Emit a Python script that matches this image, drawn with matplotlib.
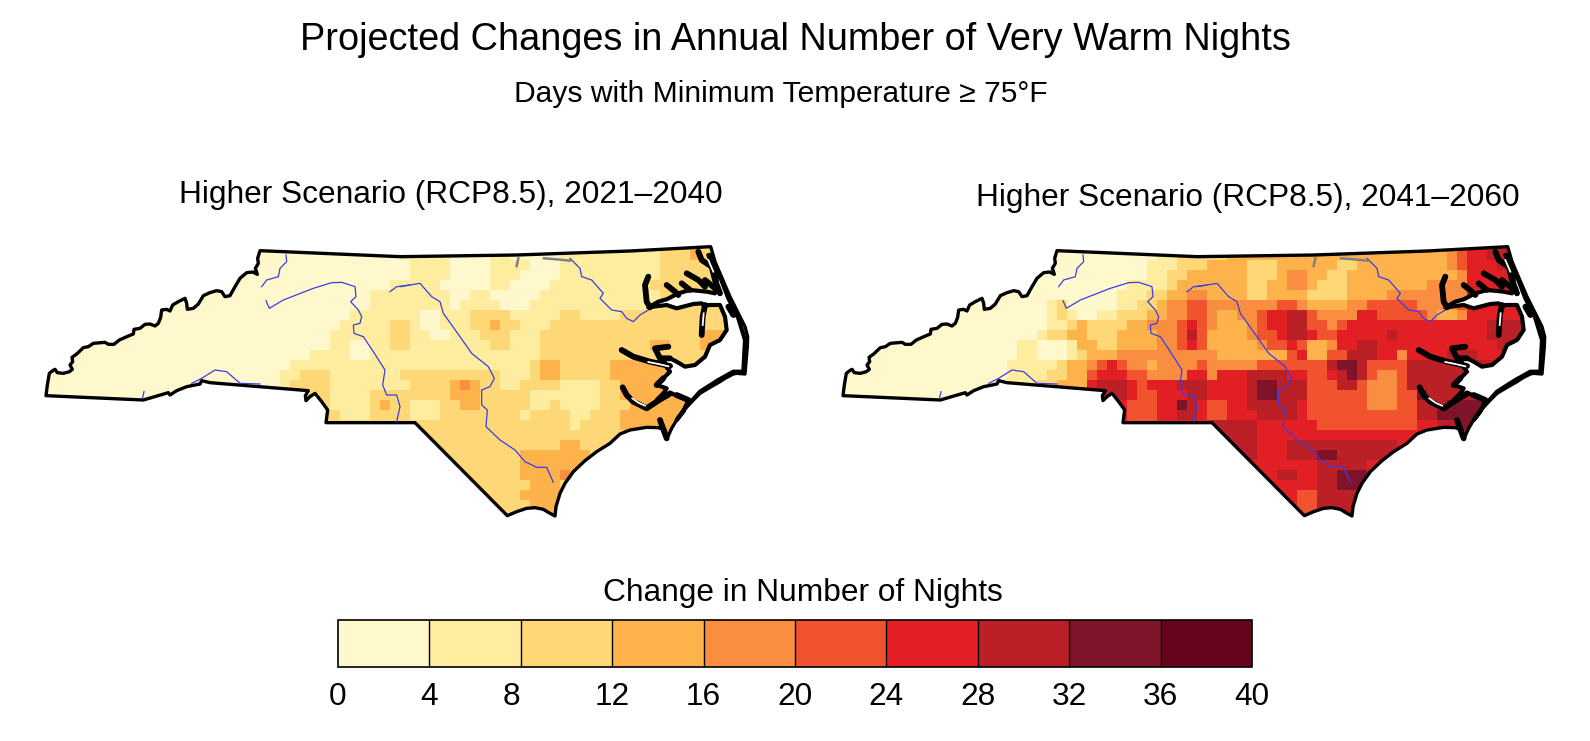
import matplotlib
matplotlib.use('Agg')
import matplotlib.pyplot as plt
import numpy as np
from matplotlib.colors import BoundaryNorm, ListedColormap
from matplotlib.cm import ScalarMappable
from matplotlib.patches import Polygon
from matplotlib.transforms import ScaledTranslation

plt.rcParams['font.family'] = ['Liberation Sans', 'DejaVu Sans']

title = 'Projected Changes in Annual Number of Very Warm Nights'
subtitle = 'Days with Minimum Temperature ≥ 75°F'
panel_titles = ['Higher Scenario (RCP8.5), 2021–2040', 'Higher Scenario (RCP8.5), 2041–2060']
legend_title = 'Change in Number of Nights'
bin_edges = [0, 4, 8, 12, 16, 20, 24, 28, 32, 36, 40]
bin_colors = ['#fff8cc', '#feec9f', '#fed876', '#feb24c', '#f98e40',
              '#f2532f', '#e31f26', '#bb2026', '#7f132a', '#67051f']

# bin index per 10 px cell, grouped in tens so the columns can be counted
early_bins = [
    '0000000000 0000000000 0000000000 0000000000 0000000000 0011111111 1122232222 22',
    '0000000000 0000000000 0000000000 0000001111 1000011000 0011111111 1122232222 22',
    '0000000000 0000000000 0000000000 0000000111 1000011110 0011111111 1122222222 22',
    '0000000000 0000000000 0000000000 0000000111 1000011100 0011111111 1122222222 22',
    '0000000000 0000000000 0000000000 0000011111 0000011000 0111111111 1222222222 22',
    '0000000000 0000000000 0000000000 0001111111 1001100000 1111111111 1122222222 22',
    '0000000000 0000000000 0000000000 0001111111 1011110001 1111111111 1122222222 22',
    '0000000000 0000000000 0000000000 0111111100 1112222111 1122111122 2222222222 22',
    '0000000000 0000000000 0000000000 1111122100 1112232211 1222222222 2222222222 22',
    '0000000000 0000000000 0000000001 1111122110 0111222111 2222222222 2222223332 22',
    '0000000000 0000000000 0000000001 1001122111 1111122111 2222222222 2332223322 22',
    '0000000000 0000000000 0000000111 1001111111 1111111111 2222222222 2222222222 22',
    '0000000000 0000000000 0000011111 1111111111 1111111112 3322222333 3332222222 22',
    '0000000000 0000000000 0000112221 1111112222 2222221112 3322222333 3333222222 22',
    '0000000000 0000000000 0000122221 1111111222 2343221122 2211112233 3333333222 22',
    '0000000000 0000000000 0000022221 1112222222 2333222221 1111112233 3333333333 33',
    '0000000000 0000000000 0000022221 1112322111 2233222221 1211112223 3333333333 33',
    '0000000000 0000000000 0000022222 1112222111 2222222212 2221122233 3333333333 33',
    '0000000000 0000000000 2222222222 2222222222 2222222222 2221222233 3333333333 33',
    '0000000000 0000000000 2222222222 2222222222 2222222222 2222222222 3333333333 33',
    '0000000000 0000000000 2222222222 2222222222 2222222222 2233222222 3333333333 33',
    '0000000000 0000000000 2222222222 2222222222 2222222233 3333322222 3333333333 33',
    '0000000000 0000000000 2222222222 2222222222 2222222233 3333322222 3333333333 33',
    '0000000000 0000000000 2222222222 2222222222 2222222233 3343222222 3333333333 33',
    '0000000000 0000000000 2222222222 2222222222 2222222223 3322222222 3333333333 33',
    '0000000000 0000000000 2222222222 2222222222 2222222233 3322222222 3333333333 33',
    '0000000000 0000000000 2222222222 2222222222 2222222223 3322222222 3333333333 33',
    '0000000000 0000000000 2222222222 2222222222 2222222223 3322222222 3333333333 33',
]
late_bins = [
    '0000000000 0000000000 0000000000 0011222223 3333333333 3333333333 3456677666 66',
    '0000000000 0000000000 0000000000 0011222223 3333333333 3333333333 3456677666 66',
    '0000000000 0000000000 0000000000 0111222333 3222333333 2233333333 3456667766 66',
    '0000000000 0000000000 0000000000 0112233333 3222344332 2333333333 3346666666 66',
    '0000000000 0000000000 0000000001 1112333333 3223344322 2333333334 4446666666 66',
    '0000000000 0000000000 0000000011 1223344333 3223333222 2333344444 4446666666 66',
    '0000000000 0000000000 0120000011 2234455444 4444554333 3445555544 4456666666 66',
    '0000000000 0000000000 0121001122 2334455433 4456677544 4466555554 3346666666 66',
    '0000000000 0000000000 0112322223 3444565433 3456677554 5666666666 6666677777 77',
    '0000000000 0000000000 1223322233 3344575333 3455677655 6666676666 6666677777 77',
    '0000000000 0000000011 0001332233 3344565333 3345565334 6677666666 6666667777 77',
    '0000000000 0000000011 0001233344 4444444433 3333356335 5777664666 6777666666 66',
    '0000000000 0000000111 1123345654 4344445444 4455555557 8875555777 7777776666 66',
    '0000000000 0000000111 1223356665 5444466466 6777766556 7875445777 7777777777 77',
    '0000000000 0000000111 2233367776 5666777666 6788777555 7754445777 7777777777 77',
    '0000000000 0000000111 2233367776 5566677666 6788777555 5554445587 7777777777 77',
    '0000000000 0000000111 2233367765 5566876556 6777776555 5554445577 7888887777 77',
    '0000000000 0000000111 2233367765 5566776556 6677776555 5555555577 8888887777 77',
    '0000000000 0000000111 2233367765 5566666777 7766666655 5555555566 7788887777 77',
    '0000000000 0000000111 2233367765 6666666777 7766666666 6666666667 7777777777 77',
    '0000000000 0000000111 2233367765 6666666777 7766677777 7777776666 7777777777 77',
    '0000000000 0000000111 2233367765 6666666777 7766677788 7777776666 7777777777 77',
    '0000000000 0000000111 2233367765 6666666666 6666666677 7776666666 7777777777 77',
    '0000000000 0000000111 2233367765 6666666666 6666776677 8887666666 7777777777 77',
    '0000000000 0000000111 2233367765 6666666666 6666666677 8886666666 7777777777 77',
    '0000000000 0000000111 2233367765 6666666666 6666665577 7766666666 7777777777 77',
    '0000000000 0000000111 2233367765 6666666666 6666665577 7766666666 7777777777 77',
    '0000000000 0000000111 2233367765 6666666666 6666665577 7766666666 7777777777 77',
]

border_west_a = [(48, 497), (52, 465), (58, 430), (68, 422), (75, 418), (82, 428), (100, 430), (118, 425),
                 (127, 418), (120, 405), (128, 395), (126, 382), (140, 372), (160, 353), (175, 350),
                 (190, 340), (225, 337), (235, 343), (252, 343), (268, 330), (295, 318), (310, 312),
                 (312, 298), (330, 295), (345, 283), (360, 282), (375, 288), (385, 280), (392, 262),
                 (395, 240), (410, 238), (420, 243), (428, 225), (445, 215), (465, 205), (470, 220),
                 (472, 238), (490, 235), (505, 222), (520, 197), (540, 188), (560, 182), (575, 185),
                 (585, 200), (600, 197), (615, 170), (630, 145), (650, 128), (668, 126), (682, 133),
                 (676, 115), (685, 100), (683, 85), (690, 62)]
border_east = [(0, 80), (350, 75), (690, 63), (932, 50), (945, 95), (960, 130), (990, 200), (1020, 260),
               (1035, 290), (1043, 320), (1042, 350), (1035, 432), (1010, 430), (1000, 432), (975, 445),
               (960, 455), (925, 475), (900, 490), (875, 515), (860, 530), (830, 570), (815, 595),
               (800, 628), (795, 600), (775, 593), (740, 592), (690, 600), (660, 612), (630, 640),
               (590, 665), (555, 692), (520, 725), (495, 760), (480, 790), (468, 830), (465, 858),
               (450, 850), (430, 838), (405, 833), (380, 835), (350, 845), (322, 857), (45, 578), (0, 578)]
border_west_b = [(888, 578), (893, 540), (875, 515), (855, 490), (840, 500), (828, 512), (826, 497),
                 (835, 482), (540, 458), (515, 452), (510, 462), (470, 470), (440, 482), (420, 495),
                 (415, 488), (340, 510)]
sounds = [(745, 232), (775, 215), (800, 208), (835, 190), (870, 180), (920, 185), (945, 190), (950, 150),
          (935, 100), (925, 75), (935, 75), (960, 140), (985, 205), (1015, 265), (1035, 330), (1030, 425),
          (1000, 425), (955, 450), (900, 485), (855, 535), (830, 570), (850, 545), (865, 510), (835, 500),
          (815, 490), (800, 500), (770, 510), (790, 490), (800, 475), (770, 465), (790, 445), (810, 425),
          (800, 412), (790, 385), (810, 385), (830, 395), (855, 410), (885, 405), (915, 380), (930, 345),
          (960, 330), (980, 300), (975, 260), (960, 225), (925, 225), (915, 230), (905, 220), (880, 222),
          (830, 235), (800, 225)]
shore_fingers = [
    [(745, 140), (735, 165), (740, 215), (750, 232)],
    [(800, 165), (825, 185), (835, 195)],
    [(845, 160), (870, 180)],
    [(860, 130), (895, 150), (915, 170)],
    [(915, 150), (945, 175)],
    [(895, 65), (905, 90), (935, 110), (945, 150), (960, 190)],
    [(915, 225), (908, 260), (905, 315)],
    [(665, 360), (700, 380), (750, 395), (810, 408)],
    [(805, 350), (765, 355), (780, 385), (810, 385)],
    [(668, 472), (680, 495), (700, 515), (740, 535), (770, 515), (810, 490)],
    [(985, 230), (1000, 255)],
    [(780, 570), (800, 625)],
    [(830, 495), (865, 510)],
    [(770, 465), (790, 445)],
]
shore_slivers = [
    [(745, 396), (775, 402), (805, 409)],
    [(697, 505), (715, 518), (735, 527)],
    [(911, 250), (908, 285)],
    [(925, 90), (940, 125)],
]
rivers_west = [
    [(695, 170), (710, 150), (745, 140), (750, 115), (770, 95), (768, 75)],
    [(708, 212), (718, 235), (760, 210), (850, 175), (905, 158), (935, 157), (975, 170), (978, 200),
     (962, 215), (985, 240), (995, 260), (990, 280), (970, 285), (972, 310), (1000, 320), (1030, 365),
     (1065, 420), (1058, 465), (1070, 495), (1100, 495), (1110, 530), (1100, 575)],
    [(485, 460), (515, 445), (555, 420), (590, 425), (630, 460), (690, 462)],
    [(338, 503), (342, 485)],
    [(1080, 185), (1100, 170), (1140, 165)],
]
rivers_east = [
    [(0, 170), (60, 160), (95, 200), (120, 215), (130, 250), (180, 320), (215, 370), (265, 410), (283, 445),
     (270, 470), (245, 480), (245, 525), (262, 540), (258, 590), (300, 630), (345, 660), (375, 695),
     (410, 712), (440, 712), (460, 757)],
    [(510, 85), (540, 115), (545, 140), (575, 150), (610, 190), (600, 205), (635, 240), (665, 245),
     (680, 265), (700, 275), (720, 255), (745, 240)],
]
lakes = [[(355, 85), (350, 108)], [(432, 85), (470, 88), (510, 92)]]


def west_px(points):
    return [(30 + x / 3, 230 + y / 3) for x, y in points]


def east_px(points):
    return [(400 + x / 3, 230 + y / 3) for x, y in points]


def draw_map(ax, rows, dx):
    # nights per cell taken as the middle of its bin
    values = np.array([[int(c) * 4 + 2 for c in r.replace(' ', '')] for r in rows])
    xe = dx + 40 + 10 * np.arange(values.shape[1] + 1)
    ye = 240 + 10 * np.arange(values.shape[0] + 1)
    mesh = ax.pcolormesh(xe, ye, values, cmap=cmap, norm=norm, rasterized=True)

    outline = np.array(west_px(border_west_a) + east_px(border_east) + west_px(border_west_b))
    outline[:, 0] += dx
    mesh.set_clip_path(Polygon(outline, closed=True, transform=ax.transData))

    water = np.array(east_px(sounds))
    water[:, 0] += dx
    ax.add_patch(Polygon(water, closed=True, fc='white', ec='black', lw=3.0, joinstyle='round'))

    for line in rivers_west:
        p = np.array(west_px(line))
        ax.plot(p[:, 0] + dx, p[:, 1], color='#3c3ce6', lw=0.9)
    for line in rivers_east:
        p = np.array(east_px(line))
        ax.plot(p[:, 0] + dx, p[:, 1], color='#3c3ce6', lw=0.9)
    for line in lakes:
        p = np.array(east_px(line))
        ax.plot(p[:, 0] + dx, p[:, 1], color='#808080', lw=1.8)
    for line in shore_fingers:
        p = np.array(east_px(line))
        ax.plot(p[:, 0] + dx, p[:, 1], color='black', lw=4.2, solid_capstyle='round')
    for line in shore_slivers:
        p = np.array(east_px(line))
        ax.plot(p[:, 0] + dx, p[:, 1], color='white', lw=1.3)

    ax.add_patch(Polygon(outline, closed=True, fc='none', ec='black', lw=2.4, joinstyle='round'))


cmap = ListedColormap(bin_colors)
norm = BoundaryNorm(bin_edges, cmap.N)

fig = plt.figure(figsize=(15.9, 7.41), dpi=100)
ax = fig.add_axes([0, 0, 1, 1])
ax.set_xlim(0, 1590)
ax.set_ylim(741, 0)
ax.axis('off')

draw_map(ax, early_bins, 0)
draw_map(ax, late_bins, 797)

ax.text(795, 40, title, fontsize=27.3, ha='center', va='center')
ax.text(781, 94, subtitle, fontsize=21.6, ha='center', va='center')
ax.text(451, 195, panel_titles[0], fontsize=22.8, ha='center', va='center')
ax.text(1248, 198, panel_titles[1], fontsize=22.8, ha='center', va='center')
ax.text(803, 593, legend_title, fontsize=22.8, ha='center', va='center')

cax = fig.add_axes([338 / 1590, 1 - 667 / 741, 914 / 1590, 47 / 741])
cbar = fig.colorbar(ScalarMappable(norm=norm, cmap=cmap), cax=cax, orientation='horizontal',
                    ticks=bin_edges, drawedges=True)
cbar.outline.set_linewidth(1.2)
cbar.dividers.set_linewidth(1.0)
cax.tick_params(length=0, labelsize=22.8, pad=11)
# the 8 sits left of its boundary in the original
eight = cax.get_xticklabels()[2]
eight.set_transform(eight.get_transform() + ScaledTranslation(-6.6 / 72, 0, fig.dpi_scale_trans))

fig.savefig('out.png', dpi=100)
